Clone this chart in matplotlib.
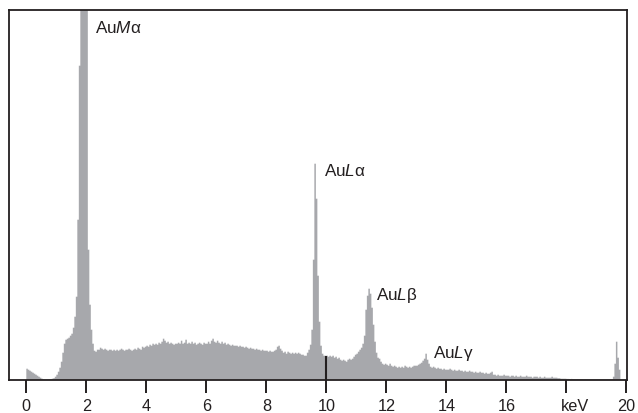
import numpy as np
import matplotlib
matplotlib.use("Agg")
import matplotlib.pyplot as plt
import matplotlib.transforms as mtransforms

plt.rcParams['font.family'] = ['Liberation Sans', 'DejaVu Sans']
plt.rcParams['mathtext.fontset'] = 'custom'
plt.rcParams['mathtext.rm'] = 'Liberation Sans'
plt.rcParams['mathtext.it'] = 'Liberation Sans:italic'

# ---- data: EDS counts (arbitrary units), 0.05 keV bins, one list per keV ----
bin_width = 0.05
seg0 = [11, 10, 9, 8, 7, 6, 5, 4, 3, 2, 1, 0.5, 0.3, 0.3, 0.3, 0.5, 0.5, 1, 1.5, 3]
seg1 = [5, 8, 12, 18, 27, 36, 40, 41, 42, 44, 46, 52, 63, 83, 160, 314, 500, 500, 500, 500]
seg2 = [400, 130, 75, 50, 36, 29, 28, 30, 30, 32, 31, 30, 31, 30, 29, 30, 30, 29, 30, 29]
seg3 = [30, 29, 30, 31, 30, 29, 30, 30, 31, 30, 29, 30, 31, 30, 32, 31, 30, 33, 32, 33]
seg4 = [34, 33, 35, 34, 36, 35, 36, 35, 37, 36, 38, 41, 39, 37, 38, 36, 37, 36, 35, 36]
seg5 = [36, 37, 36, 39, 36, 37, 40, 36, 37, 36, 38, 36, 37, 35, 36, 37, 36, 35, 37, 36]
seg6 = [36, 38, 36, 39, 41, 38, 37, 39, 37, 36, 38, 36, 37, 35, 36, 35, 34, 35, 34, 34]
seg7 = [34, 33, 34, 33, 33, 32, 33, 32, 31, 32, 31, 31, 30, 31, 30, 30, 29, 30, 29, 29]
seg8 = [29, 28, 29, 28, 28, 29, 30, 33, 34, 31, 29, 27, 28, 26, 28, 27, 26, 27, 26, 27]
seg9 = [26, 27, 26, 25, 25, 24, 24, 27, 30, 35, 50, 120, 216, 181, 104, 58, 34, 26, 24, 24]
seg10 = [24, 23, 24, 23, 24, 22, 23, 21, 22, 20, 19, 20, 19, 18, 20, 21, 20, 21, 23, 25]
seg11 = [26, 28, 30, 32, 36, 44, 70, 84, 91, 86, 72, 55, 38, 27, 22, 21, 18, 16, 15, 16]
seg12 = [15, 14, 16, 14, 13, 14, 13, 12, 13, 12, 13, 12, 14, 13, 12, 13, 12, 13, 14, 14]
seg13 = [14, 15, 16, 17, 19, 21, 26, 20, 16, 13, 12, 13, 12, 11, 12, 11, 11, 10, 11, 10]
seg14 = [10, 10, 11, 10, 9, 10, 9, 9, 10, 9, 9, 8, 9, 8, 8, 9, 8, 8, 7, 8]
seg15 = [7, 7, 8, 7, 7, 6, 7, 6, 6, 7, 8, 5, 5, 4, 5, 4, 4, 4, 5, 4]
seg16 = [4, 4, 3, 4, 4, 3, 4, 3, 3, 4, 3, 3, 3, 4, 3, 3, 3, 2, 3, 3]
seg17 = [3, 2, 3, 2, 2, 3, 2, 2, 2, 2, 3, 2, 2, 2, 1.5, 1.5, 1, 1, 1, 1]
seg18 = [0.8, 0.8, 0.7, 0.8, 0.7, 0.7, 0.6, 0.7, 0.6, 0.6, 0.6, 0.5, 0.6, 0.5, 0.5, 0.5, 0.5, 0.5, 0.5, 0.5]
seg19 = [0.5, 0.5, 0.5, 0.5, 0.5, 0.5, 0.5, 0.5, 0.5, 0.5, 0.5, 3, 16, 38, 22, 10, 0.5, 0.3, 0.3, 0.3]

tick_values = [0, 2, 4, 6, 8, 10, 12, 14, 16, 18, 20]
tick_labels = ['0', '2', '4', '6', '8', '10', '12', '14', '16', '', '20']
unit_label = 'keV'

peak_labels = [r'Au$\mathit{M}$α', r'Au$\mathit{L}$α', r'Au$\mathit{L}$β', r'Au$\mathit{L}$γ']
peak_label_x = [2.29, 9.93, 11.65, 13.57]
peak_label_y = [348, 205, 81, 23]

marker_kev = [10.0]
marker_height = [24]

counts = np.array(seg0 + seg1 + seg2 + seg3 + seg4 + seg5 + seg6 + seg7 + seg8 + seg9 +
                  seg10 + seg11 + seg12 + seg13 + seg14 + seg15 + seg16 + seg17 + seg18 + seg19)
edges = np.arange(len(counts) + 1) * bin_width
step_vals = np.append(counts, counts[-1])

# ---- figure ----
W, H = 638, 414
fig = plt.figure(figsize=(W / 100, H / 100), dpi=100)
ax = fig.add_axes([9 / W, (H - 380.7) / H, (627 - 9) / W, (380.7 - 10.5) / H])

dark = '#231f20'
ax.fill_between(edges, 0, step_vals, step='post', facecolor='#a7a8ac',
                edgecolor='none', linewidth=0)
ax.vlines(marker_kev, 0, marker_height, color=dark, linewidth=1.5)

ax.set_xlim(-0.577, 20.02)
ax.set_ylim(0, 370.2)

for s in ax.spines.values():
    s.set_color(dark)
    s.set_linewidth(1.3)

ax.set_yticks([])
ax.set_xticks(tick_values)
ax.set_xticklabels(tick_labels)
ax.tick_params(axis='x', direction='out', length=9, width=1.4, pad=4.3,
               color=dark, labelcolor=dark, labelsize=11.7)

trans = mtransforms.blended_transform_factory(ax.transData, ax.transAxes)
ax.text(18.28, -0.0505, unit_label, transform=trans, ha='center', va='top',
        fontsize=11.7, color=dark)

for lab, x, y in zip(peak_labels, peak_label_x, peak_label_y):
    ax.text(x, y, lab, ha='left', va='baseline', fontsize=12.3, color=dark)

fig.savefig('out.png', dpi=100)
